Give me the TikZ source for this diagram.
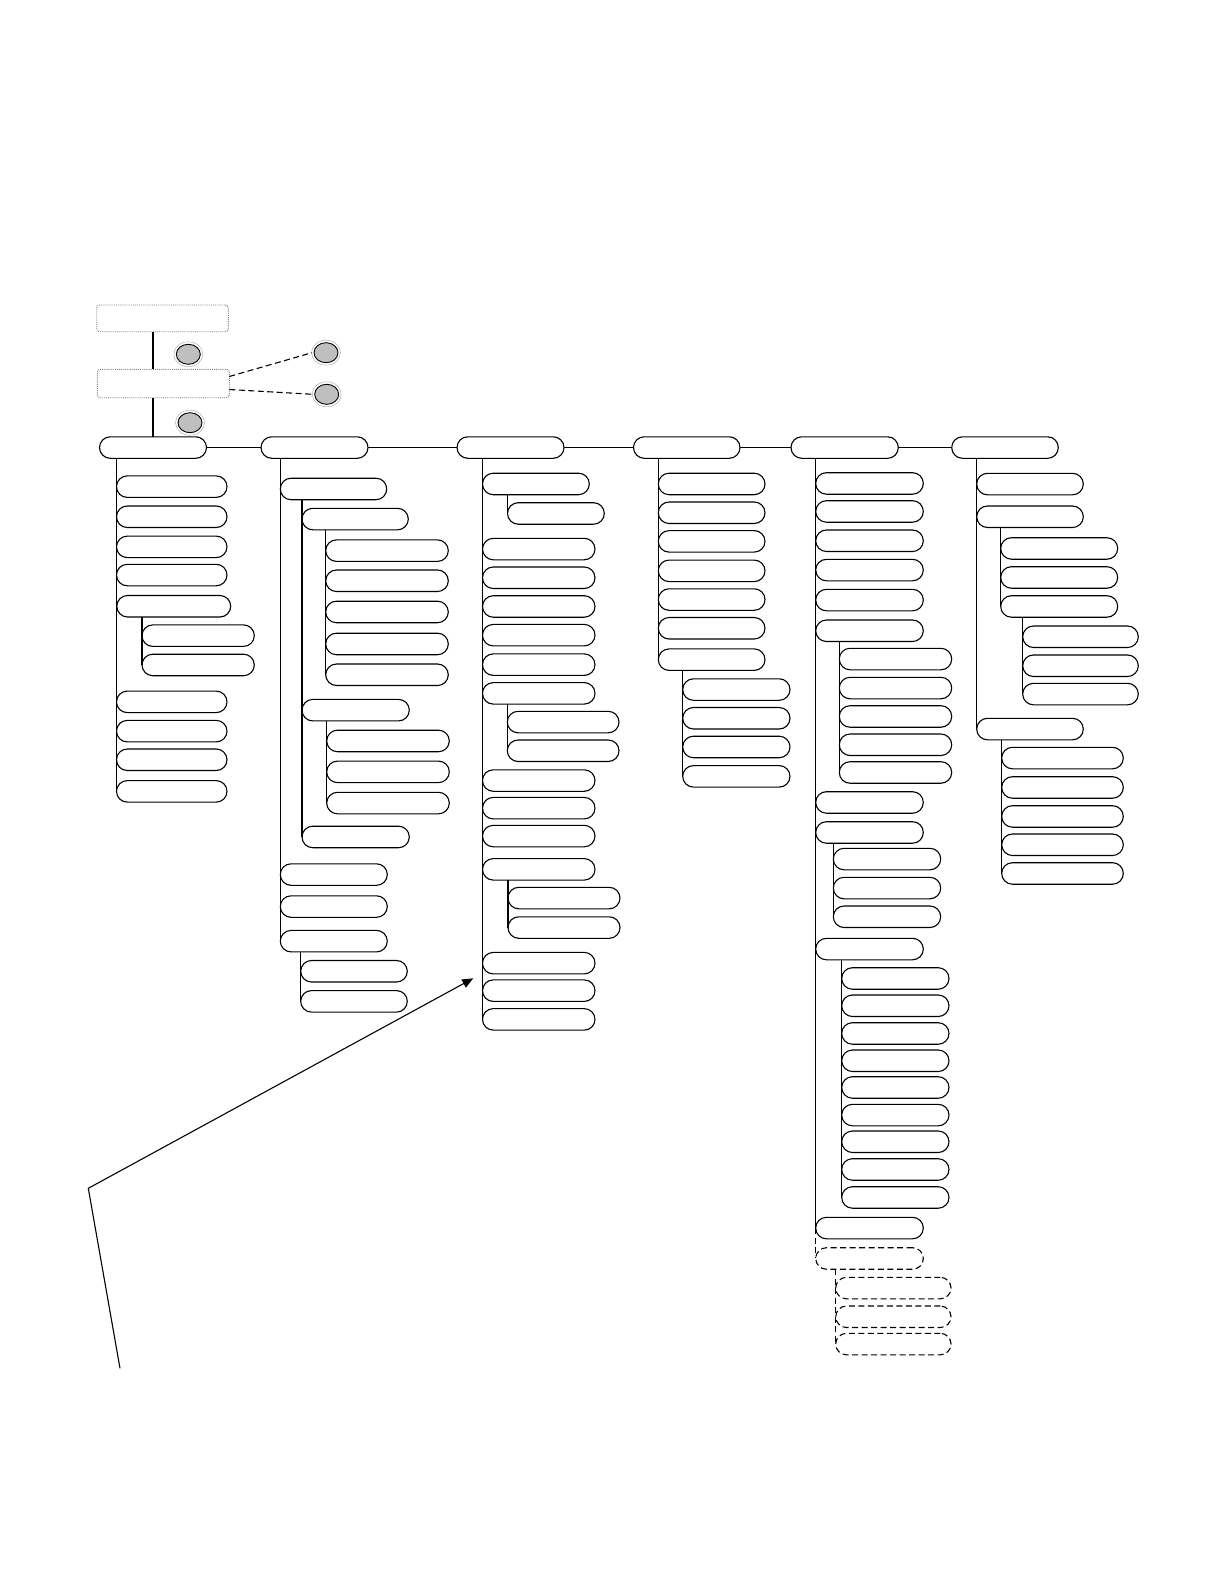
\documentclass[tikz,border=0pt]{standalone}
\usetikzlibrary{shapes.geometric,arrows.meta}
\newcommand\bx[5][]{\pgfmathsetmacro\bxw{#5-#3}\node[pill,#1,minimum width=\bxw pt,anchor=north west] (#2) at (#3,#4) {};}
\tikzset{
  pill/.style={draw,rounded corners=10.75pt,minimum height=21.5pt,inner sep=0pt,outer sep=0pt,line width=1.1pt},
  dpill/.style={dash pattern=on 6pt off 3.5pt},
  topbox/.style={draw=gray,densely dotted,rounded corners=3pt,line width=0.9pt,minimum height=27pt,inner sep=0pt,outer sep=0pt},
  conn/.style={line width=1.1pt},
  thick conn/.style={line width=1.7pt},
  dconn/.style={line width=1.1pt,dash pattern=on 6pt off 3.5pt},
  circ/.style={ellipse,draw=black,fill=gray!50,line width=0.9pt,minimum width=24pt,minimum height=20pt,inner sep=0pt,outer sep=2pt},
  ring/.style={draw=gray!60,line width=0.5pt}
}
\begin{document}
\begin{tikzpicture}[x=1pt,y=-1pt]
\useasboundingbox[fill=white] (0,0) rectangle (1224,1584);
% top boxes
\node[topbox,minimum width=131.6pt,minimum height=26.7pt,anchor=north west] (top1) at (96.7,305) {};
\node[topbox,minimum width=132pt,minimum height=28.4pt,anchor=north west] (top2) at (97.3,369.3) {};
% circles
\node[circ] (k1) at (188.3,354.3) {};
\node[circ] (k2) at (326,352.7) {};
\node[circ] (k3) at (326.7,394.3) {};
\node[circ] (k4) at (190,422.7) {};
\foreach \k in {k1,k2,k3,k4}{\draw[ring] (\k.center) ellipse (14.5 and 12.5);}
% main row
\bx{m1}{99.5}{436.8}{206.5}
\bx{m2}{261}{436.8}{368}
\bx{m3}{457}{436.8}{564}
\bx{m4}{633.5}{436.8}{740}
\bx{m5}{791}{436.8}{898.3}
\bx{m6}{951.7}{436.8}{1058.3}
\draw[thick conn] (top1.south -| m1.north) -- (top2.north -| m1.north);
\draw[thick conn] (top2.south -| m1.north) -- (m1.north);
\draw[dconn] ([yshift=7pt]top2.east) -- (k2.west);
\draw[dconn] ([yshift=-6pt]top2.east) -- (k3.west);
\draw[conn] (m1.east) -- (m2.west);
\draw[conn] (m2.east) -- (m3.west);
\draw[conn] (m3.east) -- (m4.west);
\draw[conn] (m4.east) -- (m5.west);
\draw[conn] (m5.east) -- (m6.west);
% column 1
\foreach \n/\t in {1/475.9,2/506.0,3/536.1,4/564.3,6/691.1,7/720.4,8/749.0,9/780.6}{\bx{c\n}{116.5}{\t}{227}}
\bx{c5}{116.8}{595.5}{230.7}
\bx{d1}{142}{624.9}{254.3}
\bx{d2}{142}{654.2}{254.3}
\draw[conn] (c9.west |- m1.south) -- (c9.west);
\draw[conn] (d2.west |- c5.south) -- (d2.west);
% column 2
\bx{A1}{280.3}{478.2}{386.7}
\bx{A2}{280.3}{863.8}{387.3}
\bx{A3}{280.3}{895.8}{387.3}
\bx{A4}{280.3}{930.4}{387.3}
\bx{B1}{302}{508.3}{408.3}
\bx{B2}{302}{699.4}{409.3}
\bx{B3}{302}{826.2}{409.3}
\foreach \n/\t in {1/539.9,2/570.0,3/601.2,4/633.2,5/664.0}{\bx{C\n}{325.7}{\t}{448.3}}
\foreach \n/\t in {1/730.2,2/761.1,3/792.3}{\bx{D\n}{326.7}{\t}{449.3}}
\bx{E1}{300.7}{960.5}{407.3}
\bx{E2}{300.7}{990.6}{407.3}
\draw[conn] (A4.west |- m2.south) -- (A4.west);
\draw[conn] (B3.west |- A1.south) -- (B3.west);
\draw[conn] (C5.west |- B1.south) -- (C5.west);
\draw[conn] (D3.west |- B2.south) -- (D3.west);
\draw[conn] (E2.west |- A4.south) -- (E2.west);
% column 3
\bx{F1}{482.5}{473.2}{589.3}
\foreach \n/\t in {2/538.3,3/567.0,4/595.7,5/624.4,6/653.9,7/682.6,8/769.8,9/797.4,10/825.3,11/858.6,12/952.4,13/979.9,14/1008.6}{\bx{F\n}{482.5}{\t}{595}}
\bx{G1}{507.5}{502.7}{604.3}
\bx{H1}{507.3}{711.3}{619}
\bx{H2}{507.3}{740.0}{619}
\bx{I1}{508}{887.3}{620}
\bx{I2}{508}{916.8}{620}
\draw[conn] (F14.west |- m3.south) -- (F14.west);
\draw[conn] (G1.west |- F1.south) -- (G1.west);
\draw[conn] (H2.west |- F7.south) -- (H2.west);
\draw[conn] (I2.west |- F11.south) -- (I2.west);
% column 4
\foreach \n/\t in {1/473.2,2/502.0,3/530.6,4/560.1,5/588.8,6/617.5,7/648.9}{\bx{J\n}{658.3}{\t}{765}}
\foreach \n/\t in {1/678.8,2/707.5,3/736.2,4/765.6}{\bx{K\n}{682.7}{\t}{790}}
\draw[conn] (J7.west |- m4.south) -- (J7.west);
\draw[conn] (K4.west |- J7.south) -- (K4.west);
% column 5
\foreach \n/\t in {1/472.7,2/500.7,3/530,4/559.3,5/589.3,6/620,7/791.7,8/821.7,9/938.3,10/1217.3}{\bx{L\n}{815.7}{\t}{923.3}}
\foreach \n/\t in {1/648.3,2/677.3,3/705.7,4/734,5/761.7}{\bx{M\n}{839.3}{\t}{951.7}}
\foreach \n/\t in {1/848.3,2/877.3,3/906}{\bx{N\n}{833.3}{\t}{940.7}}
\foreach \n/\t in {1/967.7,2/995,3/1022.7,4/1050,5/1076.7,6/1104.3,7/1131,8/1158.7,9/1186.7}{\bx{O\n}{841.7}{\t}{949}}
\bx[dpill]{L11}{815.7}{1247.7}{923.3}
\foreach \n/\t in {1/1277.3,2/1306,3/1333.3}{\bx[dpill]{P\n}{835.7}{\t}{951}}
\draw[conn] (L10.west |- m5.south) -- (L10.west);
\draw[dconn] (L10.west) -- (L11.west);
\draw[conn] (M5.west |- L6.south) -- (M5.west);
\draw[conn] (N3.west |- L8.south) -- (N3.west);
\draw[conn] (O9.west |- L9.south) -- (O9.west);
\draw[dconn] (P3.west |- L11.south) -- (P3.west);
% column 6
\bx{Q1}{976.7}{473.3}{1083.3}
\bx{Q2}{976.7}{506}{1083.3}
\bx{Q3}{976.7}{718.3}{1083.3}
\foreach \n/\t in {1/537.7,2/566.7,3/595.7}{\bx{U\n}{1000.7}{\t}{1117.7}}
\foreach \n/\t in {1/626,2/655,3/683.3}{\bx{S\n}{1022.7}{\t}{1138.3}}
\foreach \n/\t in {1/747.3,2/776.7,3/805.7,4/834,5/862.7}{\bx{T\n}{1001.7}{\t}{1123.3}}
\draw[conn] (Q3.west |- m6.south) -- (Q3.west);
\draw[conn] (U3.west |- Q2.south) -- (U3.west);
\draw[conn] (S3.west |- U3.south) -- (S3.west);
\draw[conn] (T5.west |- Q3.south) -- (T5.west);
% arrow
\coordinate (a0) at (120,1368.3);
\coordinate (a1) at (88.3,1188.3);
\coordinate (a2) at (473.3,978.3);
\draw[conn,-{Triangle[length=11pt,width=9pt]}] (a0) -- (a1) -- (a2);
\end{tikzpicture}
\end{document}
